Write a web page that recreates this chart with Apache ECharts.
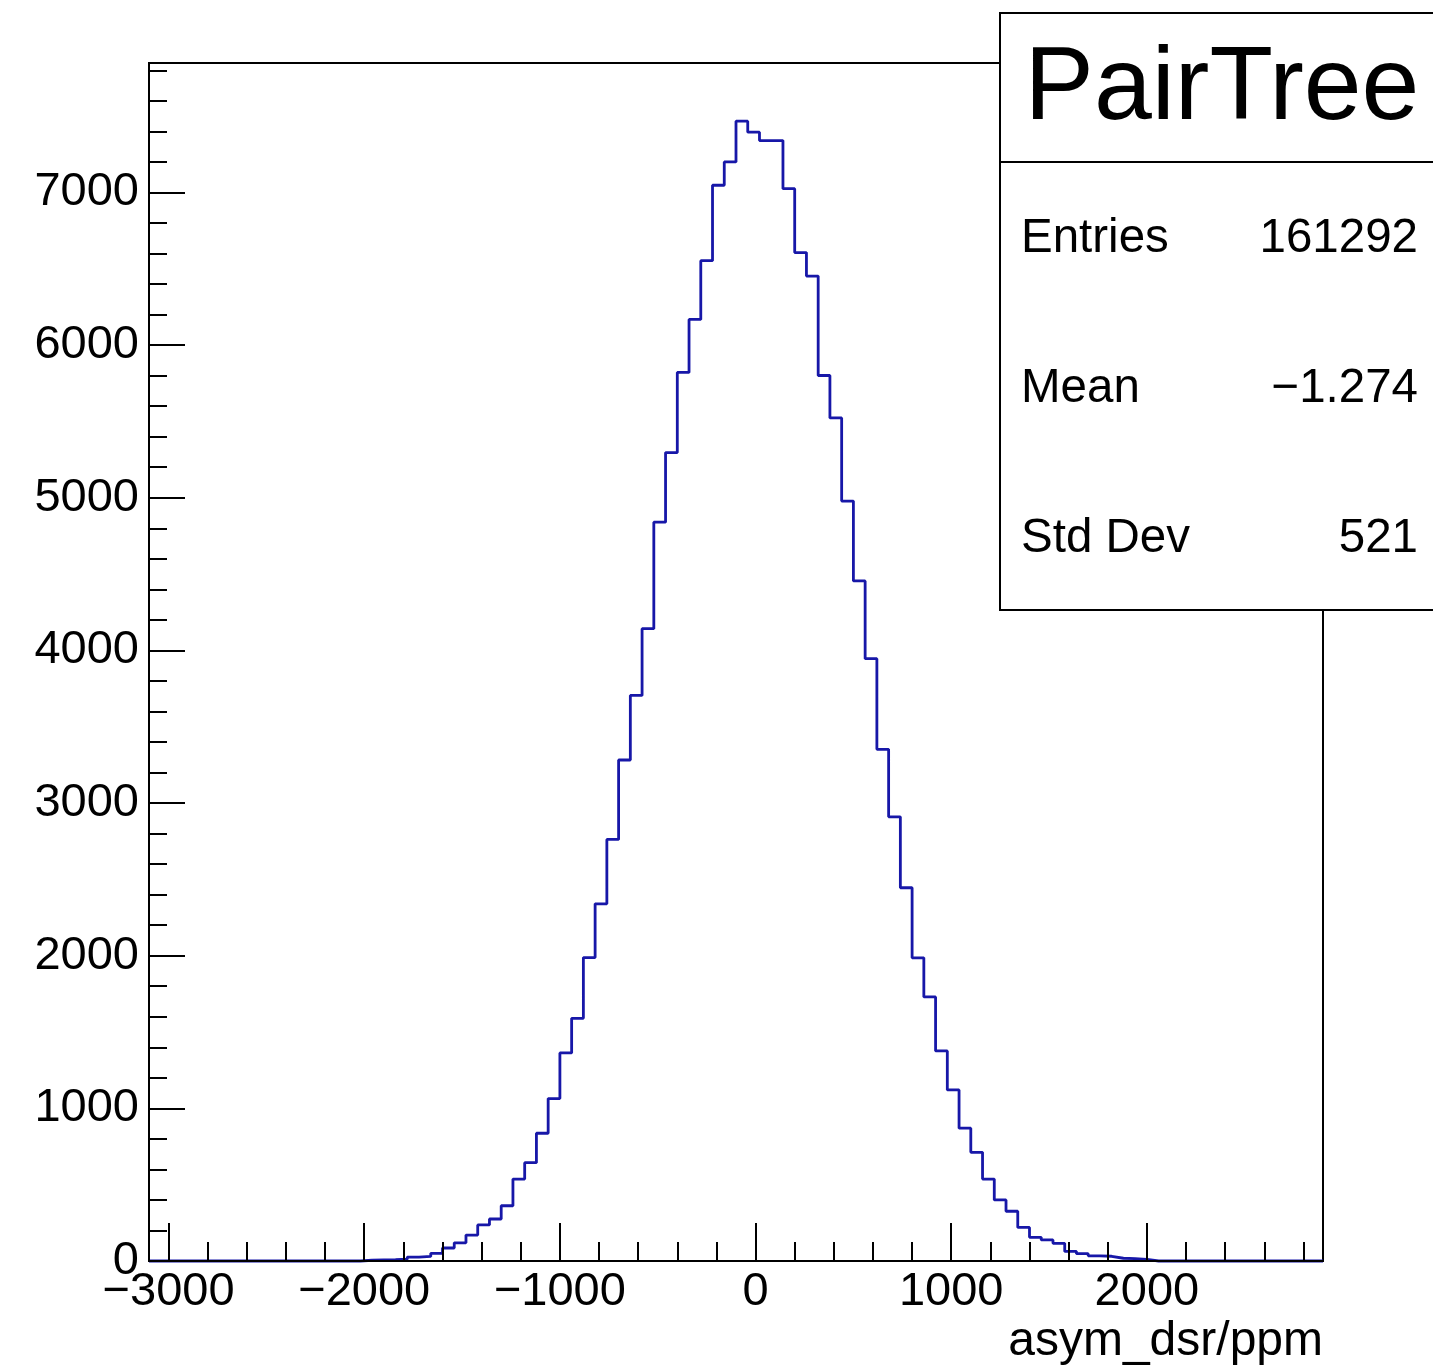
<!DOCTYPE html>
<html>
<head>
<meta charset="utf-8">
<script src="https://cdn.jsdelivr.net/npm/echarts@6/dist/echarts.min.js"></script>
<style>
html,body{margin:0;padding:0;background:#fff;}
#c{width:1433px;height:1371px;}
</style>
</head>
<body>
<div id="c"></div>
<script>
// Histogram definition: 100 bins of width 60 starting at -3100
const binLow = -3100;
const binWidth = 60;
const counts = [
  0,0,0,0,0,0,0,0,0,0,
  0,0,0,0,0,0,0,0,5,7,
  9,12,26,30,50,85,119,170,236,275,
  362,537,644,837,1064,1363,1590,1988,2340,2762,
  3282,3705,4142,4840,5296,5821,6168,6553,7047,7200,
  7467,7395,7340,7340,7025,6606,6452,5801,5523,4978,
  4455,3946,3352,2910,2445,1986,1730,1376,1121,870,
  712,537,400,326,220,155,138,116,63,48,
  34,31,18,15,11,0,0,0,0,0,
  0,0,0,0,0,0,0,0,0,0
];
const xMajorTicks = [-3000,-2000,-1000,0,1000,2000];
const xMinorTicks = [-3000,-2800,-2600,-2400,-2200,-2000,-1800,-1600,-1400,-1200,-1000,-800,-600,-400,-200,0,200,400,600,800,1000,1200,1400,1600,1800,2000,2200,2400,2600,2800];
const yMajorTicks = [0,1000,2000,3000,4000,5000,6000,7000];
const yMinorTicks = [200,400,600,800,1200,1400,1600,1800,2200,2400,2600,2800,3200,3400,3600,3800,4200,4400,4600,4800,5200,5400,5600,5800,6200,6400,6600,6800,7200,7400,7600,7800];
const xMin = -3100, xMax = 2900, yMax = 7848;
const xTitle = 'asym_dsr/ppm';
const statsTitle = 'PairTree';
const statsLabels = ['Entries','Mean','Std Dev'];
const statsValues = ['161292','\u22121.274','521'];

const FONT = "'Liberation Sans', Arial, Helvetica, sans-serif";
const fmt = v => v < 0 ? '\u2212' + Math.abs(v) : String(v);

// step data: [left edge, count], plus closing point at upper edge
const histData = counts.map((c, i) => [binLow + i * binWidth, c]);
histData.push([binLow + counts.length * binWidth, counts[counts.length - 1]]);

const chart = echarts.init(document.getElementById('c'), null, {renderer: 'canvas'});

const tickLine = {color: '#000', width: 2};
const labelStyle = {fontSize: 47, fontFamily: FONT, color: '#000'};

const graphics = [
  {type: 'rect', z: 100, shape: {x: 1000, y: 13, width: 470, height: 597},
   style: {fill: '#fff', stroke: '#000', lineWidth: 2}},
  {type: 'line', z: 101, shape: {x1: 1000, y1: 162, x2: 1440, y2: 162},
   style: {stroke: '#000', lineWidth: 2}},
  {type: 'text', z: 101, x: 1222, y: 90,
   style: {text: statsTitle, fontSize: 104, fontFamily: FONT, fill: '#000', align: 'center', verticalAlign: 'middle'}},
  {type: 'text', z: 101, x: 1323, y: 1342,
   style: {text: xTitle, fontSize: 48, fontFamily: FONT, fill: '#000', align: 'right', verticalAlign: 'middle'}}
];
const rowY = [239, 389, 539];
statsLabels.forEach((lab, i) => {
  graphics.push({type: 'text', z: 101, x: 1021, y: rowY[i],
    style: {text: lab, fontSize: 47.5, fontFamily: FONT, fill: '#000', align: 'left', verticalAlign: 'middle'}});
  graphics.push({type: 'text', z: 101, x: 1418, y: rowY[i],
    style: {text: statsValues[i], fontSize: 47.5, fontFamily: FONT, fill: '#000', align: 'right', verticalAlign: 'middle'}});
});

chart.setOption({
  animation: false,
  backgroundColor: '#fff',
  grid: {left: 149, top: 63, width: 1174, height: 1198, show: true,
         borderColor: '#000', borderWidth: 2, backgroundColor: 'transparent', containLabel: false},
  xAxis: [
    {type: 'value', min: xMin, max: xMax, position: 'bottom', z: 5,
     axisLine: {show: true, onZero: false, lineStyle: tickLine},
     axisTick: {show: true, inside: true, length: 38, customValues: xMajorTicks, lineStyle: tickLine},
     axisLabel: Object.assign({show: true, customValues: xMajorTicks, formatter: fmt, margin: 8}, labelStyle),
     splitLine: {show: false}, minorTick: {show: false}},
    {type: 'value', min: xMin, max: xMax, position: 'bottom', z: 5,
     axisLine: {show: false, onZero: false},
     axisTick: {show: true, inside: true, length: 19, customValues: xMinorTicks, lineStyle: tickLine},
     axisLabel: {show: false},
     splitLine: {show: false}}
  ],
  yAxis: [
    {type: 'value', min: 0, max: yMax, position: 'left', z: 5,
     axisLine: {show: true, onZero: false, lineStyle: tickLine},
     axisTick: {show: true, inside: true, length: 36, customValues: yMajorTicks, lineStyle: tickLine},
     axisLabel: Object.assign({show: true, customValues: yMajorTicks, formatter: fmt, margin: 10}, labelStyle),
     splitLine: {show: false}},
    {type: 'value', min: 0, max: yMax, position: 'left', z: 5,
     axisLine: {show: false, onZero: false},
     axisTick: {show: true, inside: true, length: 18, customValues: yMinorTicks, lineStyle: tickLine},
     axisLabel: {show: false},
     splitLine: {show: false}}
  ],
  series: [{
    type: 'line', xAxisIndex: 0, yAxisIndex: 0,
    step: 'end', data: histData, symbol: 'none', showSymbol: false,
    clip: false, z: 2,
    lineStyle: {color: '#1717a8', width: 2.8},
    emphasis: {disabled: true}
  }],
  graphic: graphics
});
</script>
</body>
</html>
